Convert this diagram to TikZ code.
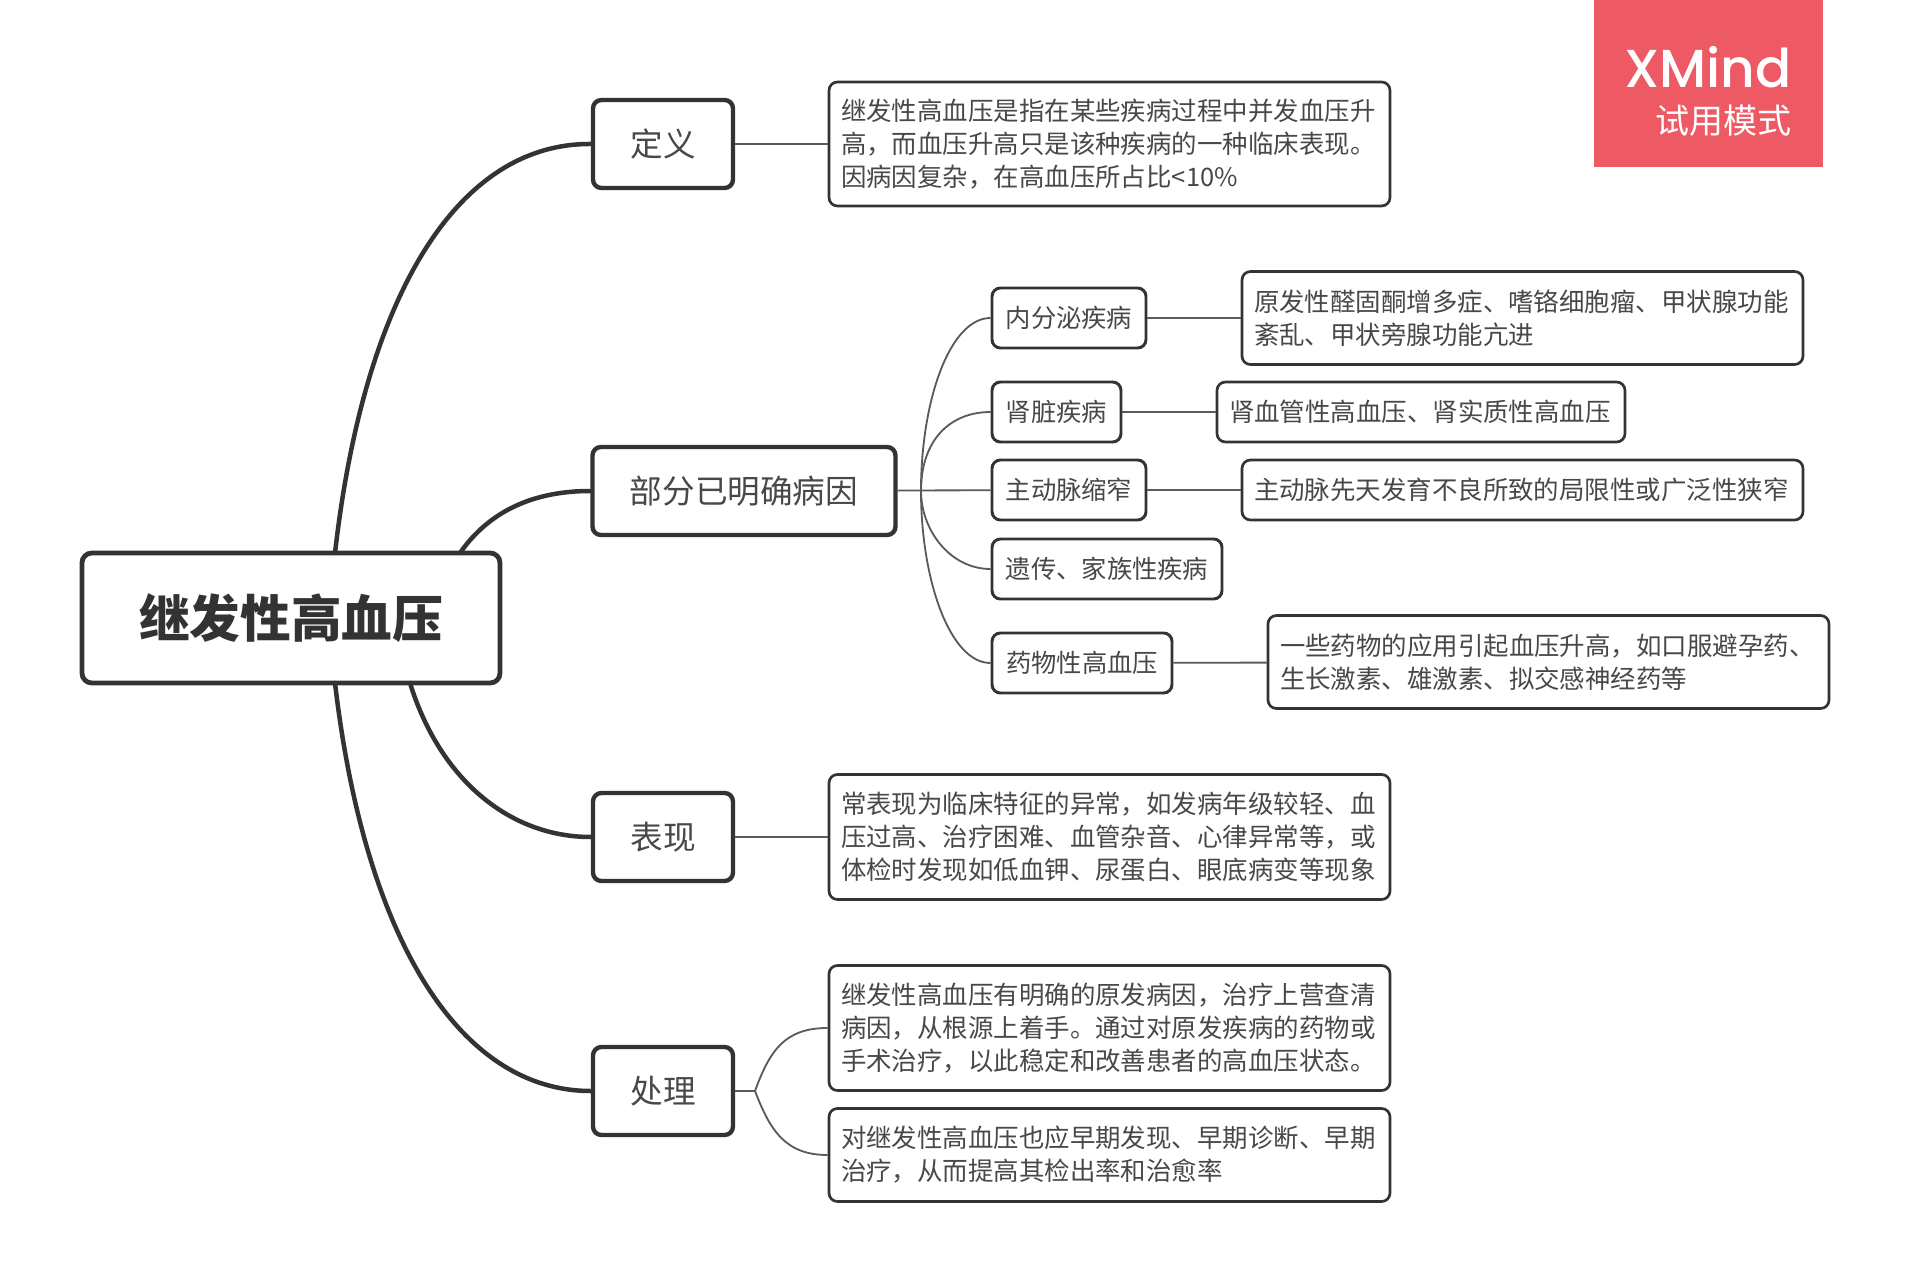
\documentclass[tikz,border=0pt]{standalone}
\usepackage{fontspec}
\usepackage{xcolor}
\setmainfont{Noto Sans CJK SC}
\newfontfamily\logofont{Poppins Medium}
\usetikzlibrary{calc}
\definecolor{ink}{HTML}{333333}
\definecolor{wordc}{HTML}{484848}
\definecolor{twig}{HTML}{5A5A5A}
\definecolor{logobg}{HTML}{EE5A64}
\def\u{0.025cm}
\tikzset{
  rootbox/.style={draw=ink, line width=3.4pt, rounded corners=7pt, fill=white, text=ink, minimum width=418*\u, minimum height=130*\u, inner sep=0pt, font=\fontsize{36}{40}\selectfont\bfseries},
  mainbox/.style={draw=ink, line width=3.1pt, rounded corners=6pt, fill=white, text=wordc, minimum width=#1*\u, minimum height=88*\u, inner sep=0pt, font=\fontsize{23.2}{28}\selectfont},
  subbox/.style={draw=ink, line width=2.1pt, rounded corners=6pt, fill=white, text=wordc, minimum width=#1*\u, minimum height=60*\u, inner sep=0pt, font=\fontsize{18}{23.4}\selectfont},
  note/.style 2 args={draw=ink, line width=1.9pt, rounded corners=6pt, fill=white, text=wordc, align=left, text width=#1*\u-24*\u, minimum height=#2*\u, inner xsep=12*\u, inner ysep=0pt, font=\fontsize{18.1}{23.4}\selectfont},
  trunk/.style={draw=ink, line width=3.2pt, line cap=round},
  twigline/.style={draw=twig, line width=1.3pt},
}
\begin{document}
\begin{tikzpicture}[x=\u, y=-\u]
  \useasboundingbox (0,0) rectangle (1908,1280);
  \fill[white] (0,0) rectangle (1908,1280);
  % watermark
  \fill[logobg] (1594,0) rectangle (1823,167);
  \node[text=white, anchor=base east, inner sep=0pt, text height=38*\u, text depth=0pt, font=\logofont\fontsize{38}{38}\selectfont] (logo) at (1792,88) {XMind};
  \node[text=white, anchor=base east, inner sep=0pt, text height=30*\u, text depth=0pt, font=\fontsize{24.2}{28}\selectfont] (mode) at (1792,134) {试用模式};
  % centre and first level
  \node[rootbox] (root) at (291,618) {继发性高血压};
  \node[mainbox=140] (def) at (663,144) {定义};
  \node[mainbox=303] (cause) at (744,491) {部分已明确病因};
  \node[mainbox=140] (sign) at (663,837) {表现};
  \node[mainbox=140] (care) at (663,1091) {处理};
  % second level
  \node[subbox=154] (endo) at (1069,318) {内分泌疾病};
  \node[subbox=129] (renal) at (1056.5,412) {肾脏疾病};
  \node[subbox=154] (aorta) at (1069,490) {主动脉缩窄};
  \node[subbox=230] (gene) at (1107,569) {遗传、家族性疾病};
  \node[subbox=180] (drug) at (1082,663) {药物性高血压};
  % notes
  \node[note={561}{124}] (defn) at (1109.5,144) {继发性高血压是指在某些疾病过程中并发血压升\\高，而血压升高只是该种疾病的一种临床表现。\\因病因复杂，在高血压所占比<10\%};
  \node[note={561}{93}] (endon) at (1522.5,318) {原发性醛固酮增多症、嗜铬细胞瘤、甲状腺功能\\紊乱、甲状旁腺功能亢进};
  \node[note={408}{60}] (renaln) at (1421,412) {肾血管性高血压、肾实质性高血压};
  \node[note={561}{60}] (aortan) at (1522.5,490) {主动脉先天发育不良所致的局限性或广泛性狭窄};
  \node[note={561}{93}] (drugn) at (1548.5,662) {一些药物的应用引起血压升高，如口服避孕药、\\生长激素、雄激素、拟交感神经药等};
  \node[note={561}{125}] (signn) at (1109.5,837) {常表现为临床特征的异常，如发病年级较轻、血\\压过高、治疗困难、血管杂音、心律异常等，或\\体检时发现如低血钾、尿蛋白、眼底病变等现象};
  \node[note={561}{125}] (caren) at (1109.5,1028) {继发性高血压有明确的原发病因，治疗上营查清\\病因，从根源上着手。通过对原发疾病的药物或\\手术治疗，以此稳定和改善患者的高血压状态。};
  \node[note={561}{93}] (earlyn) at (1109.5,1155) {对继发性高血压也应早期发现、早期诊断、早期\\治疗，从而提高其检出率和治愈率};
  % thick curves leave the root through its border
  \coordinate (rootA) at (335,553);
  \coordinate (rootB) at (460,553);
  \coordinate (rootC) at (410,683);
  \coordinate (rootD) at (335,683);
  \draw[trunk] (rootA) .. controls (365,290) and (460,143) .. (def.west);
  \draw[trunk] (rootB) .. controls (490,510) and (535,491) .. (cause.west);
  \draw[trunk] (rootC) .. controls (440,780) and (510,837) .. (sign.west);
  \draw[trunk] (rootD) .. controls (365,940) and (460,1091) .. (care.west);
  \coordinate (causeJ) at (921,491);
  \coordinate (careJ) at (755,1091);
  \draw[twigline] (def) -- (defn);
  \draw[twigline] (cause) -- (aorta);
  \draw[twigline] (sign) -- (signn);
  \draw[twigline] (care) -- (careJ);
  \foreach \a/\b in {endo/endon,renal/renaln,aorta/aortan,drug/drugn}
    \draw[twigline] (\a) -- (\b);
  \draw[twigline] (causeJ) .. controls (921,400) and (950,318) .. (endo.west);
  \draw[twigline] (causeJ) .. controls (921,440) and (950,412) .. (renal.west);
  \draw[twigline] (causeJ) .. controls (921,530) and (950,569) .. (gene.west);
  \draw[twigline] (causeJ) .. controls (921,580) and (950,663) .. (drug.west);
  \draw[twigline] (careJ) .. controls (770,1050) and (785,1028) .. (caren.west);
  \draw[twigline] (careJ) .. controls (770,1130) and (785,1155) .. (earlyn.west);
\end{tikzpicture}
\end{document}
